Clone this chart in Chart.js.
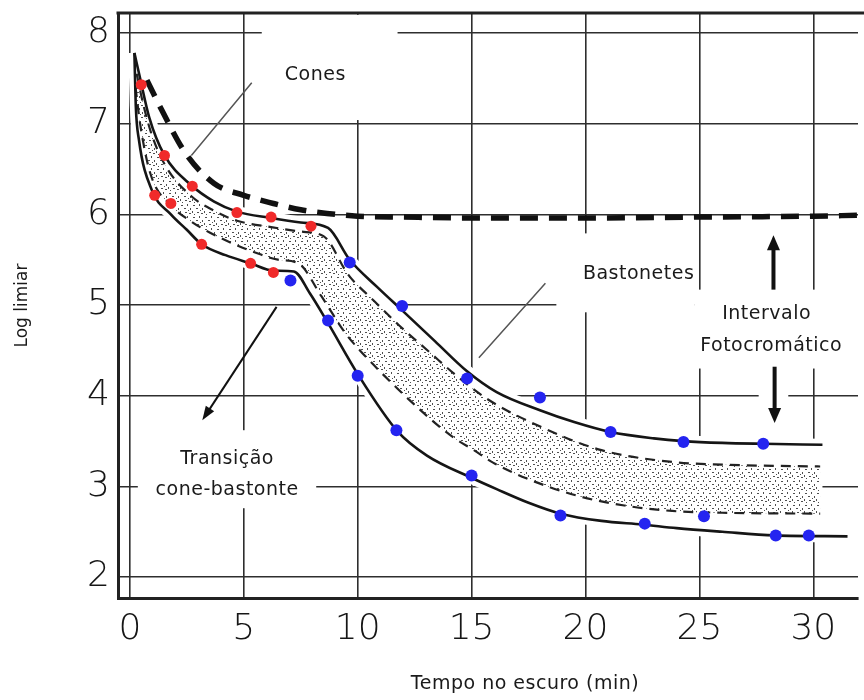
<!DOCTYPE html>
<html lang="pt">
<head>
<meta charset="utf-8">
<title>Adaptação ao escuro</title>
<script src="https://cdn.jsdelivr.net/npm/chart.js@4.4.0/dist/chart.umd.min.js"></script>
<style>
  body { margin: 0; background: #fff; }
  #wrap { width: 864px; height: 700px; position: relative; }
</style>
</head>
<body>
<div id="wrap"><canvas id="chart"></canvas></div>
<script>
// tick labels
const xTicks = [0, 5, 10, 15, 20, 25, 30];
const yTicks = [2, 3, 4, 5, 6, 7, 8];

// cone threshold (thick dashed line)
const coneX = [0.75, 1.4, 2.43, 3.7, 5.0, 6.3, 7.5, 8.65, 10, 12, 15, 20, 25, 30, 32];
const coneY = [7.48, 7.15, 6.68, 6.34, 6.21, 6.12, 6.05, 6.01, 5.98, 5.97, 5.96, 5.96, 5.97, 5.98, 5.99];

// outer solid curves of the band
const upperX = [0.2, 0.45, 0.85, 1.5, 2.7, 3.7, 4.7, 6.2, 7.5, 8.7, 9.65, 10.85, 12, 13.4, 14.8, 16.1, 18, 19.5, 21.1, 23, 24.3, 26, 27.8, 30.4];
const upperY = [7.78, 7.5, 7.07, 6.66, 6.32, 6.14, 6.03, 5.96, 5.91, 5.85, 5.5, 5.2, 4.93, 4.6, 4.27, 4.04, 3.84, 3.71, 3.6, 3.53, 3.5, 3.48, 3.47, 3.46];
const lowerX = [0.2, 0.26, 0.4, 0.96, 1.8, 2.5, 3.15, 4.2, 5.3, 6.3, 7.2, 7.9, 8.7, 10, 11.74, 13.04, 15.04, 16.1, 17.5, 18.9, 20.7, 22.5, 24, 26, 28.3, 31.5];
const lowerY = [7.78, 7.2, 6.82, 6.27, 6.0, 5.83, 5.67, 5.55, 5.46, 5.38, 5.37, 5.13, 4.8, 4.24, 3.61, 3.34, 3.09, 2.97, 2.82, 2.7, 2.62, 2.58, 2.54, 2.5, 2.46, 2.45];

// inner dashed curves
const innerUpX = [0.3, 0.6, 1.0, 1.6, 2.7, 3.7, 4.7, 6.2, 7.5, 8.5, 9.6, 10.7, 11.8, 13.2, 14.2, 15.65, 18.1, 20.7, 23.8, 26, 30.3];
const innerUpY = [7.55, 7.2, 6.85, 6.52, 6.2, 6.04, 5.93, 5.86, 5.81, 5.76, 5.33, 5.05, 4.78, 4.47, 4.25, 3.97, 3.65, 3.4, 3.27, 3.24, 3.22];
const innerLoX = [0.25, 0.45, 0.9, 1.8, 2.7, 3.5, 4.5, 5.5, 6.5, 7.4, 8.4, 9.43, 10.1, 11.74, 12.5, 13.35, 14.2, 15.1, 15.96, 17.4, 19.6, 21.7, 23.8, 26, 30.3];
const innerLoY = [7.4, 7.0, 6.45, 6.1, 5.92, 5.8, 5.68, 5.58, 5.5, 5.46, 5.1, 4.7, 4.5, 4.08, 3.9, 3.71, 3.54, 3.4, 3.26, 3.09, 2.9, 2.79, 2.73, 2.71, 2.7];

// measured points
const redX = [0.5, 1.09, 1.52, 1.8, 2.74, 3.15, 4.7, 5.3, 6.2, 6.3, 7.95];
const redY = [7.43, 6.21, 6.65, 6.12, 6.31, 5.67, 6.02, 5.46, 5.97, 5.36, 5.87];
const blueX = [7.05, 8.7, 9.65, 10.0, 11.7, 11.95, 14.8, 15.0, 18.0, 18.9, 21.1, 22.6, 24.3, 25.2, 27.8, 28.35, 29.8];
const blueY = [5.27, 4.83, 5.47, 4.22, 3.62, 4.99, 4.19, 3.12, 3.98, 2.68, 3.6, 2.59, 3.49, 2.67, 3.47, 2.46, 2.46];

const pts = (xs, ys) => xs.map((v, i) => ({ x: v, y: ys[i] }));

// stippled texture for the band
function stipple() {
  const c = document.createElement('canvas');
  c.width = 12; c.height = 12;
  const g = c.getContext('2d');
  g.fillStyle = '#505050';
  [[1,1,2,1],[7,0,1,2],[4,4,2,1],[10,4,1,2],[0,7,1,2],[5,8,2,1],[9,9,2,1],[2,10,1,1],[8,6,1,1]]
    .forEach(([a, b, w, h]) => g.fillRect(a, b, w, h));
  return g.createPattern(c, 'repeat');
}

// white boxes behind the labels (data units)
const boxes = [
  [5.79, 8.2, 11.75, 7.04],
  [18.72, 5.79, 24.8, 4.92],
  [24.8, 5.17, 31.96, 4.3],
  [27.6, 4.2, 28.9, 3.68],
  [0.35, 3.62, 8.18, 2.76]
];

function arrow(ctx, x0, y0, x1, y1, w, head, half) {
  const a = Math.atan2(y1 - y0, x1 - x0);
  ctx.lineWidth = w;
  ctx.beginPath();
  ctx.moveTo(x0, y0);
  ctx.lineTo(x1 - Math.cos(a) * head * 0.8, y1 - Math.sin(a) * head * 0.8);
  ctx.stroke();
  ctx.beginPath();
  ctx.moveTo(x1, y1);
  ctx.lineTo(x1 - head * Math.cos(a) + half * Math.sin(a), y1 - head * Math.sin(a) - half * Math.cos(a));
  ctx.lineTo(x1 - head * Math.cos(a) - half * Math.sin(a), y1 - head * Math.sin(a) + half * Math.cos(a));
  ctx.closePath();
  ctx.fill();
}

const annotate = {
  id: 'annotate',
  beforeDatasetsDraw(chart) {
    const { ctx, scales: { x, y } } = chart;
    ctx.save();
    ctx.fillStyle = '#fff';
    boxes.forEach(([a, b, c, d]) => {
      const px0 = x.getPixelForValue(a), px1 = x.getPixelForValue(c);
      const py0 = y.getPixelForValue(b), py1 = y.getPixelForValue(d);
      ctx.fillRect(px0, py0, px1 - px0, py1 - py0);
    });
    ctx.restore();
  },
  afterDatasetsDraw(chart) {
    const { ctx, scales: { x, y } } = chart;
    const X = v => x.getPixelForValue(v), Y = v => y.getPixelForValue(v);
    ctx.save();
    // pointer lines
    ctx.strokeStyle = '#555';
    ctx.lineWidth = 1.5;
    ctx.beginPath();
    ctx.moveTo(X(5.35), Y(7.45)); ctx.lineTo(X(2.7), Y(6.65));
    ctx.moveTo(X(18.24), Y(5.24)); ctx.lineTo(X(15.32), Y(4.42));
    ctx.stroke();
    // arrows
    ctx.strokeStyle = '#111';
    ctx.fillStyle = '#111';
    arrow(ctx, X(6.44), Y(4.98), X(3.18), Y(3.73), 2, 14, 5);
    arrow(ctx, X(28.25), Y(5.17), X(28.25), Y(5.77), 4, 15, 6.5);
    arrow(ctx, X(28.3), Y(4.32), X(28.3), Y(3.70), 4, 15, 6.5);
    // labels
    ctx.fillStyle = '#1a1a1a';
    ctx.font = '19px "DejaVu Sans", sans-serif';
    ctx.letterSpacing = '0.5px';
    ctx.textAlign = 'center';
    ctx.textBaseline = 'middle';
    ctx.fillText('Cones', X(8.14), Y(7.54));
    ctx.fillText('Bastonetes', X(22.33), Y(5.34));
    ctx.fillText('Transição', X(4.27), Y(3.3));
    ctx.fillText('cone-bastonte', X(4.27), Y(2.96));
    ctx.fillText('Intervalo', X(27.95), Y(4.9));
    ctx.fillText('Fotocromático', X(28.15), Y(4.55));
    // x axis title
    ctx.fillText('Tempo no escuro (min)', 525, 684);
    ctx.restore();
  },
  afterDraw(chart) {
    const { ctx, chartArea: a } = chart;
    ctx.save();
    ctx.strokeStyle = '#222';
    ctx.lineWidth = 3;
    ctx.beginPath();
    ctx.moveTo(a.left - 1.5, a.top);
    ctx.lineTo(864, a.top);
    ctx.stroke();
    ctx.restore();
  }
};

const noPad = s => { s.paddingTop = 0; s.paddingBottom = 0; s.paddingLeft = 0; s.paddingRight = 0; };

const solid = { showLine: true, pointRadius: 0, borderColor: '#151515', borderWidth: 2.6, cubicInterpolationMode: 'monotone', fill: false };
const thinDash = { showLine: true, pointRadius: 0, borderColor: '#222', borderWidth: 2.2, borderDash: [10, 7], cubicInterpolationMode: 'monotone' };
const halo = { showLine: true, pointRadius: 0, borderColor: '#fff', borderWidth: 12, cubicInterpolationMode: 'monotone' };

new Chart(document.getElementById('chart'), {
  type: 'scatter',
  data: {
    datasets: [
      { label: 'Cones (pontos)', data: pts(redX, redY), pointRadius: 5.5, pointBackgroundColor: '#f02a2a', pointBorderWidth: 0, order: 0 },
      { label: 'Bastonetes (pontos)', data: pts(blueX, blueY), pointRadius: 6, pointBackgroundColor: '#2424f0', pointBorderWidth: 0, order: 1 },
      { ...solid, label: 'Limite superior', data: pts(upperX, upperY), order: 2 },
      { ...solid, label: 'Limite inferior', data: pts(lowerX, lowerY), order: 3 },
      { label: 'Cones', data: pts(coneX, coneY), showLine: true, pointRadius: 0, borderColor: '#111', borderWidth: 5.5, borderDash: [18, 11], cubicInterpolationMode: 'monotone', order: 4 },
      { ...thinDash, label: 'Interno superior', data: pts(innerUpX, innerUpY), order: 5 },
      { ...thinDash, label: 'Interno inferior', data: pts(innerLoX, innerLoY), order: 6, fill: { target: 5 }, backgroundColor: stipple() },
      { ...halo, label: 'halo sup', data: pts(upperX, upperY), order: 7 },
      { ...halo, label: 'halo inf', data: pts(lowerX, lowerY), order: 8, fill: { target: 7 }, backgroundColor: '#fff' }
    ]
  },
  options: {
    responsive: true,
    maintainAspectRatio: false,
    animation: false,
    layout: { padding: { top: 13, right: 0, left: 0, bottom: 0 } },
    plugins: { legend: { display: false }, tooltip: { enabled: false } },
    scales: {
      x: {
        type: 'linear', min: -0.52, max: 31.96,
        afterBuildTicks: s => { s.ticks = xTicks.map(v => ({ value: v })); },
        afterFit: s => { s.height = 102; noPad(s); },
        grid: { color: '#2e2e2e', lineWidth: 1.6, drawTicks: false },
        border: { display: true, color: '#222', width: 3 },
        ticks: { padding: 10, color: '#161616', font: { family: '"DejaVu Sans", sans-serif', size: 36, weight: 200 } }
      },
      y: {
        type: 'linear', min: 1.77, max: 8.22,
        afterBuildTicks: s => { s.ticks = yTicks.map(v => ({ value: v })); },
        afterFit: s => { s.width = 118; noPad(s); },
        grid: { color: '#2e2e2e', lineWidth: 1.6, drawTicks: false },
        border: { display: true, color: '#222', width: 3 },
        ticks: { padding: 8, color: '#161616', font: { family: '"DejaVu Sans", sans-serif', size: 36, weight: 200 } },
        title: { display: true, text: 'Log limiar', color: '#1a1a1a', padding: { top: 12 }, font: { family: '"DejaVu Sans", sans-serif', size: 17 } }
      }
    }
  },
  plugins: [annotate]
});
</script>
</body>
</html>
